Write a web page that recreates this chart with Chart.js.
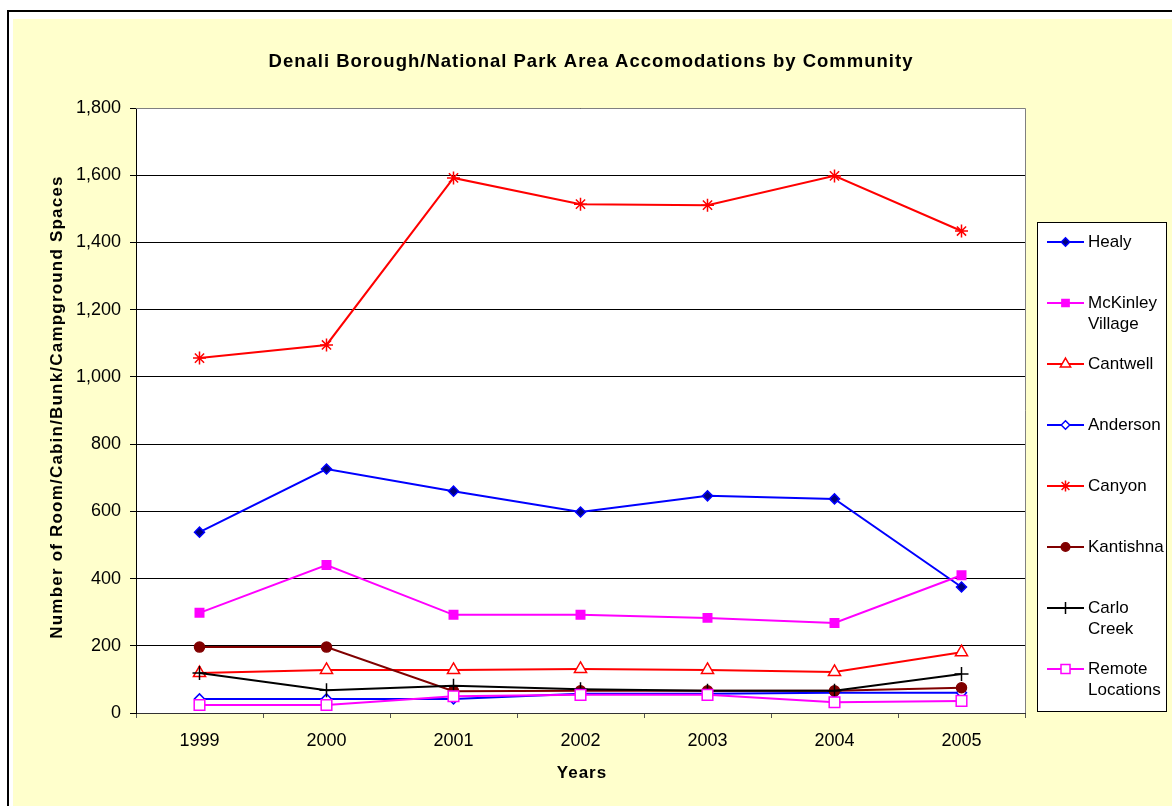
<!DOCTYPE html>
<html>
<head>
<meta charset="utf-8">
<script src="https://cdn.jsdelivr.net/npm/chart.js@4.4.0/dist/chart.umd.min.js"></script>
<style>
  html, body { margin: 0; padding: 0; background: #fff; }
  #wrap { position: absolute; left: 0; top: 0; width: 1172px; height: 806px; }
</style>
</head>
<body>
<div id="wrap"><canvas id="accomChart" width="1172" height="806"></canvas></div>
<script>
// values
const years = ["1999", "2000", "2001", "2002", "2003", "2004", "2005"];
const healy = [538, 726, 660, 598, 646, 637, 375];
const mckinley = [298, 440, 292, 292, 283, 268, 410];
const cantwell = [119, 128, 128, 131, 128, 122, 181];
const anderson = [42, 42, 42, 57, 57, 60, 60];
const canyon = [1056, 1095, 1592, 1514, 1511, 1598, 1434];
const kantishna = [196, 196, 65, 66, 66, 66, 75];
const carloCreek = [119, 68, 81, 71, 66, 66, 116];
const remote = [24, 24, 50, 54, 54, 32, 36];
const yMax = 1800;
const yStep = 200;

const FONT = "'Liberation Sans', Arial, sans-serif";
const chartTitle = "Denali Borough/National Park Area Accomodations by Community";
const xTitle = "Years";
const yTitle = "Number of Room/Cabin/Bunk/Campground Spaces";

const series = [
  { label: ["Healy"], data: healy, color: "#0000ff", fill: "#000080", style: "rectRot", r: 5 },
  { label: ["McKinley", "Village"], data: mckinley, color: "#ff00ff", fill: "#ff00ff", style: "rect", r: 6 },
  { label: ["Cantwell"], data: cantwell, color: "#ff0000", fill: "#ffffff", style: "triangle", r: 7 },
  { label: ["Anderson"], data: anderson, color: "#0000ff", fill: "#ffffff", style: "rectRot", r: 5 },
  { label: ["Canyon"], data: canyon, color: "#ff0000", fill: "#ff0000", style: "star", r: 6.5 },
  { label: ["Kantishna"], data: kantishna, color: "#800000", fill: "#800000", style: "circle", r: 5 },
  { label: ["Carlo", "Creek"], data: carloCreek, color: "#000000", fill: "#000000", style: "cross", r: 7 },
  { label: ["Remote", "Locations"], data: remote, color: "#ff00ff", fill: "#ffffff", style: "rect", r: 7.5 },
];

// page frame, plot background, plot border, titles and legend
const framePlugin = {
  id: "frame",
  beforeDraw(chart) {
    const ctx = chart.ctx;
    const a = chart.chartArea;
    ctx.save();
    ctx.fillStyle = "#ffffff";
    ctx.fillRect(0, 0, chart.width, chart.height);
    ctx.fillStyle = "#ffffcc";
    ctx.fillRect(13, 19, chart.width, chart.height);
    ctx.strokeStyle = "#000";
    ctx.lineWidth = 2;
    ctx.strokeRect(8, 11, chart.width + 10, chart.height + 10);
    ctx.fillStyle = "#ffffff";
    ctx.fillRect(a.left, a.top, a.right - a.left, a.bottom - a.top);
    ctx.restore();
  },
  beforeDatasetsDraw(chart) {
    const ctx = chart.ctx;
    const a = chart.chartArea;
    ctx.save();
    ctx.strokeStyle = "#808080";
    ctx.lineWidth = 1;
    ctx.beginPath();
    ctx.moveTo(a.left, a.top + 0.5);
    ctx.lineTo(a.right + 0.5, a.top + 0.5);
    ctx.lineTo(a.right + 0.5, a.bottom);
    ctx.stroke();
    ctx.restore();
  },
  afterDraw(chart) {
    const ctx = chart.ctx;
    const a = chart.chartArea;
    ctx.save();
    ctx.fillStyle = "#000";
    ctx.textAlign = "center";
    ctx.textBaseline = "middle";
    ctx.letterSpacing = "1px";
    ctx.font = "bold 18.5px " + FONT;
    ctx.fillText(chartTitle, 591, 62);
    ctx.font = "bold 17px " + FONT;
    ctx.fillText(xTitle, 582, 773);
    ctx.save();
    ctx.translate(57, 407);
    ctx.rotate(-Math.PI / 2);
    ctx.letterSpacing = "1.2px";
    ctx.fillText(yTitle, 0, 0);
    ctx.restore();
    ctx.letterSpacing = "0px";

    // legend box
    ctx.fillStyle = "#ffffff";
    ctx.fillRect(1037, 222, 129, 489);
    ctx.strokeStyle = "#000";
    ctx.lineWidth = 1;
    ctx.strokeRect(1037.5, 222.5, 129, 489);
    ctx.font = "17px " + FONT;
    ctx.textAlign = "left";
    series.forEach((s, i) => {
      const y = 242 + i * 61;
      ctx.strokeStyle = s.color;
      ctx.lineWidth = 2;
      ctx.beginPath();
      ctx.moveTo(1047, y);
      ctx.lineTo(1084, y);
      ctx.stroke();
      ctx.fillStyle = s.fill;
      ctx.strokeStyle = s.color;
      ctx.lineWidth = 1.5;
      Chart.helpers.drawPoint(ctx, { pointStyle: s.style, radius: s.r * 0.85, rotation: 0, borderWidth: 1.5 }, 1065.5, y);
      ctx.fillStyle = "#000";
      s.label.forEach((t, j) => ctx.fillText(t, 1088, y + j * 21));
    });
    ctx.restore();
  },
};

const datasets = series.map((s, i) => ({
  label: s.label.join(" "),
  data: s.data,
  borderColor: s.color,
  borderWidth: 2,
  pointStyle: s.style,
  pointRadius: s.r,
  pointBackgroundColor: s.fill,
  pointBorderColor: s.color,
  pointBorderWidth: 1.5,
  tension: 0,
  fill: false,
  order: series.length - i,
}));

new Chart(document.getElementById("accomChart").getContext("2d"), {
  type: "line",
  data: { labels: years, datasets: datasets },
  options: {
    responsive: false,
    animation: false,
    events: [],
    layout: { padding: { left: 0, right: 147, top: 108, bottom: 0 } },
    plugins: {
      legend: { display: false },
      title: { display: false },
      tooltip: { enabled: false },
    },
    scales: {
      x: {
        offset: true,
        afterFit: (s) => { s.height = 93; },
        grid: { offset: true, drawOnChartArea: false, tickLength: 5, color: "#555" },
        border: { color: "#333", width: 1 },
        ticks: { color: "#000", padding: 12, font: { family: FONT, size: 18 } },
      },
      y: {
        min: 0,
        max: yMax,
        afterFit: (s) => { s.width = 136; },
        ticks: {
          stepSize: yStep,
          color: "#000",
          padding: 9,
          font: { family: FONT, size: 18 },
          callback: (v) => v.toLocaleString("en-US"),
        },
        grid: { color: "#000", lineWidth: 1, tickLength: 6 },
        border: { color: "#000", width: 1 },
      },
    },
  },
  plugins: [framePlugin],
});
</script>
</body>
</html>
